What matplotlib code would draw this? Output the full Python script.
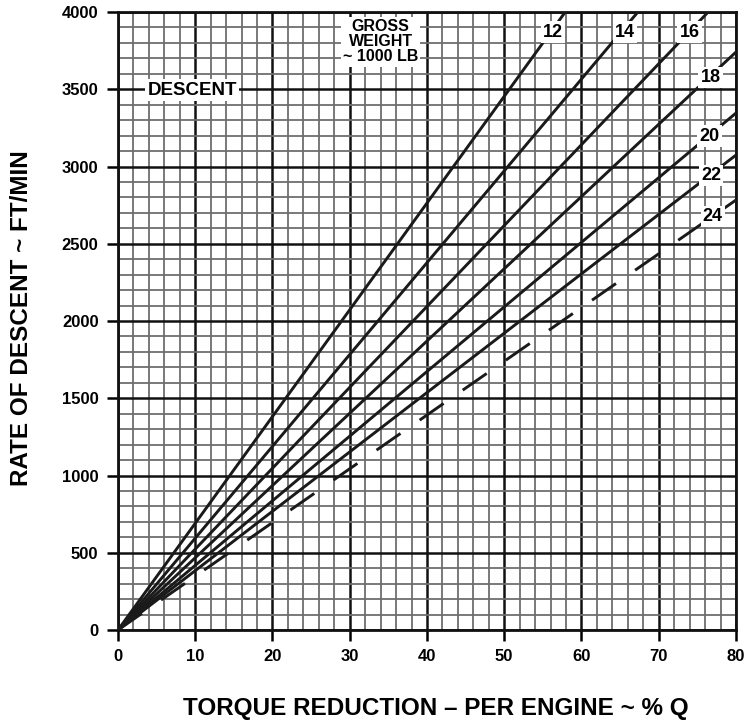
import numpy as np
import matplotlib.pyplot as plt
from matplotlib.ticker import MultipleLocator

plt.rcParams['font.family'] = ['Liberation Sans', 'DejaVu Sans']
plt.rcParams['font.weight'] = 'bold'

# gross weight lines (~1000 lb), straight from origin to the chart edge
weights = [12, 14, 16, 18, 20, 22, 24]
x_end = [57.9, 67.3, 76.4, 80, 80, 80, 80]
y_end = [4000, 4000, 4000, 3741, 3346, 3074, 2783]

# where each weight label sits
lab_x = [56.3, 65.6, 74.0, 76.7, 76.6, 76.8, 77.0]
lab_y = [3870, 3870, 3870, 3575, 3197, 2941, 2675]

x_ticks = [0, 10, 20, 30, 40, 50, 60, 70, 80]
y_ticks = [0, 500, 1000, 1500, 2000, 2500, 3000, 3500, 4000]

fig = plt.figure(figsize=(7.49, 7.24), dpi=100)
ax = fig.add_axes([0.1575, 0.1298, 0.8251, 0.8536])

ax.set_xlim(0, 80)
ax.set_ylim(0, 4000)
ax.set_xticks(x_ticks)
ax.set_yticks(y_ticks)
ax.xaxis.set_minor_locator(MultipleLocator(2))
ax.yaxis.set_minor_locator(MultipleLocator(100))
ax.grid(which='minor', color='#6e6e6e', lw=1.3, zorder=0)
ax.grid(which='major', color='#111111', lw=1.8, zorder=0)
ax.tick_params(which='minor', length=0)
ax.tick_params(which='major', length=8, width=1.8, labelsize=12, pad=6)
for s in ax.spines.values():
    s.set_linewidth(2)
    s.set_color('#111111')

for i in range(len(weights)):
    ls = (0, (10, 8)) if weights[i] == 24 else '-'
    ax.plot([0, x_end[i]], [0, y_end[i]], color='#1a1a1a', lw=2.1, ls=ls, zorder=3)
    ax.text(lab_x[i], lab_y[i], str(weights[i]), ha='center', va='center',
            fontsize=13, fontweight='bold', zorder=5,
            bbox=dict(facecolor='white', edgecolor='none', pad=1.5))

ax.text(9.6, 3495, 'DESCENT', ha='center', va='center', fontsize=13.5,
        fontweight='bold', zorder=5,
        bbox=dict(facecolor='white', edgecolor='none', pad=1.5))
ax.text(34.0, 3806, 'GROSS\nWEIGHT\n~ 1000 LB', ha='center', va='center',
        fontsize=11.5, fontweight='bold', linespacing=1.0, zorder=5,
        bbox=dict(facecolor='white', edgecolor='none', pad=1.5))

ax.set_xlabel('TORQUE REDUCTION \u2013 PER ENGINE ~ % Q', fontsize=17.5,
              fontweight='bold', va='center')
ax.set_ylabel('RATE OF DESCENT ~ FT/MIN', fontsize=17.5, fontweight='bold',
              va='center')
# label centres: x label at ~708 px, y label at ~22 px
ax.xaxis.set_label_coords(0.515, (630 - 708) / 618)
ax.yaxis.set_label_coords((22 - 118) / 618, 0.505)

plt.savefig('out.png', dpi=100)
